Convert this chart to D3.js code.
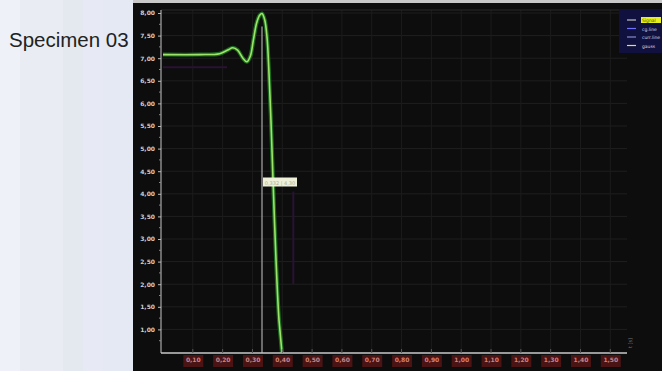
<!DOCTYPE html>
<html>
<head>
<meta charset="utf-8">
<script src="https://cdn.jsdelivr.net/npm/d3@7"></script>
<style>
  html, body { margin: 0; padding: 0; background: #e8edf5; }
  svg { display: block; }
</style>
</head>
<body>
<svg id="chart" width="662" height="371"></svg>
<script>
// Specimen trace: position (x) vs. measured value (y)
const traceX = [0, 0.123, 0.19, 0.217, 0.234, 0.25, 0.268, 0.281, 0.293, 0.303, 0.314, 0.324, 0.332, 0.341, 0.349, 0.355, 0.362, 0.369, 0.379, 0.389, 0.399];
const traceY = [7.08, 7.08, 7.10, 7.18, 7.23, 7.18, 7.00, 6.92, 7.05, 7.40, 7.78, 7.95, 7.99, 7.85, 7.45, 6.74, 5.63, 4.30, 2.54, 1.21, 0.48];

// Reference baseline segment
const refX = [0, 0.215];
const refY = [6.80, 6.80];

// Lower limit marker
const limitX = [0.437, 0.437];
const limitY = [4.05, 2.0];

// Cursor
const cursorX = 0.332;
const cursorY = 4.25;
const cursorText = "0,332 | 4,30";

const yTicks = [8.0, 7.5, 7.0, 6.5, 6.0, 5.5, 5.0, 4.5, 4.0, 3.5, 3.0, 2.5, 2.0, 1.5, 1.0];
const xTicks = [0.1, 0.2, 0.3, 0.4, 0.5, 0.6, 0.7, 0.8, 0.9, 1.0, 1.1, 1.2, 1.3, 1.4, 1.5];
const legendNames = ["Signal", "cg.line", "curr.line", "gauss"];

const fmt = d => d.toFixed(2).replace(".", ",");

const svg = d3.select("#chart");
const W = 662, H = 371;

// Left caption panel
const bands = [[0, 20, "#eef2f8"], [20, 43, "#e9edf3"], [63, 20, "#e4e8ef"], [83, 20, "#e7eaf4"], [103, 30, "#e5e9f4"]];
svg.selectAll("rect.band").data(bands).join("rect")
  .attr("class", "band")
  .attr("x", d => d[0]).attr("y", 0).attr("width", d => d[1]).attr("height", H)
  .attr("fill", d => d[2]);

svg.append("text")
  .attr("x", 9).attr("y", 47)
  .attr("font-family", "Liberation Sans, Arial, sans-serif")
  .attr("font-size", 20.5)
  .attr("fill", "#222")
  .text("Specimen 03");

// Dark graph panel
svg.append("rect").attr("x", 133).attr("y", 0).attr("width", W - 133).attr("height", H).attr("fill", "#0d0d0d");
svg.append("rect").attr("x", 133).attr("y", 0).attr("width", W - 133).attr("height", 3).attr("fill", "#c9c9c9");

const plotL = 161, plotR = 627, plotT = 6, plotB = 353;

const x = d3.scaleLinear().domain([0, 1.556]).range([163, 627]);
const y = d3.scaleLinear().domain([0.5, 8.0]).range([352, 13]);

// Grid
svg.append("g").selectAll("line").data(yTicks).join("line")
  .attr("x1", plotL).attr("x2", plotR)
  .attr("y1", d => y(d)).attr("y2", d => y(d))
  .attr("stroke", "#1f1f1f").attr("stroke-width", 1);
svg.append("g").selectAll("line").data(xTicks).join("line")
  .attr("y1", 10).attr("y2", plotB)
  .attr("x1", d => x(d)).attr("x2", d => x(d))
  .attr("stroke", "#1c1c1c").attr("stroke-width", 1);
svg.append("line").attr("x1", plotL).attr("x2", plotR).attr("y1", 10).attr("y2", 10)
  .attr("stroke", "#2a2a2a");

// Clip for plotted data
svg.append("clipPath").attr("id", "plotClip")
  .append("rect").attr("x", plotL).attr("y", plotT).attr("width", plotR - plotL).attr("height", plotB - plotT);

const plot = svg.append("g").attr("clip-path", "url(#plotClip)");

const lineStraight = d3.line().x(d => x(d[0])).y(d => y(d[1]));

plot.append("path")
  .attr("d", lineStraight(d3.zip(refX, refY)))
  .attr("fill", "none").attr("stroke", "#2a1234").attr("stroke-width", 2);

plot.append("path")
  .attr("d", lineStraight(d3.zip(limitX, limitY)))
  .attr("fill", "none").attr("stroke", "#2a1234").attr("stroke-width", 2);

// Cursor line
plot.append("line")
  .attr("x1", x(cursorX)).attr("x2", x(cursorX))
  .attr("y1", y(7.7)).attr("y2", plotB)
  .attr("stroke", "#a9a9a9").attr("stroke-width", 1.2);

const traceData = d3.zip(traceX, traceY);
const tracePath = d3.line().x(d => x(d[0])).y(d => y(d[1])).curve(d3.curveCatmullRom.alpha(0.5));
plot.append("path")
  .attr("d", tracePath(traceData))
  .attr("fill", "none").attr("stroke", "#1e7a22").attr("stroke-width", 4).attr("opacity", 0.85);
plot.append("path")
  .attr("d", tracePath(traceData))
  .attr("fill", "none").attr("stroke", "#9fe46a").attr("stroke-width", 1.6);

// Cursor readout
const cx = x(cursorX), cy = y(cursorY);
svg.append("rect").attr("x", cx + 1).attr("y", cy - 5).attr("width", 34).attr("height", 9)
  .attr("fill", "#eef0d8");
svg.append("text").attr("x", cx + 18).attr("y", cy + 2)
  .attr("text-anchor", "middle")
  .attr("font-family", "DejaVu Sans, sans-serif").attr("font-size", 5)
  .attr("fill", "#a8ae98").text(cursorText);

// Y axis
const yAxis = d3.axisLeft(y).tickValues(yTicks).tickFormat(fmt).tickSize(3);
const gy = svg.append("g").attr("transform", `translate(${plotL},0)`).call(yAxis);
gy.select(".domain").attr("stroke", "#c8c8c8").attr("d", `M0,10V${plotB}`);
gy.selectAll(".tick line").attr("stroke", "#bbb");
gy.selectAll(".tick text")
  .attr("x", -6)
  .attr("fill", "#d0d0d0")
  .attr("font-family", "DejaVu Sans, sans-serif")
  .attr("font-size", 6)
  .attr("font-weight", "bold");
const minorY = d3.range(0.75, 8.0, 0.5);
svg.append("g").selectAll("line").data(minorY).join("line")
  .attr("x1", plotL - 2).attr("x2", plotL)
  .attr("y1", d => y(d)).attr("y2", d => y(d))
  .attr("stroke", "#888");

// X axis
const xAxis = d3.axisBottom(x).tickValues(xTicks).tickFormat(fmt).tickSize(0);
const gx = svg.append("g").attr("transform", `translate(0,${plotB})`).call(xAxis);
gx.select(".domain").attr("stroke", "#c8c8c8").attr("stroke-width", 1.5).attr("d", `M${plotL},0H${plotR}`);
gx.selectAll(".tick").insert("rect", "text")
  .attr("x", -10).attr("y", 2).attr("width", 20).attr("height", 12)
  .attr("fill", "#4a1414");
gx.selectAll(".tick text")
  .attr("y", 5)
  .attr("fill", "#d08282")
  .attr("font-family", "DejaVu Sans, sans-serif")
  .attr("font-size", 6)
  .attr("font-weight", "bold");
svg.append("g").selectAll("line").data(xTicks).join("line")
  .attr("x1", d => x(d)).attr("x2", d => x(d))
  .attr("y1", plotB - 4).attr("y2", plotB)
  .attr("stroke", "#555");

svg.append("text")
  .attr("transform", `translate(632,348) rotate(-90)`)
  .attr("font-family", "DejaVu Sans, sans-serif").attr("font-size", 5)
  .attr("fill", "#777").text("t [s]");

// Legend
const lg = svg.append("g").attr("transform", "translate(619,9)");
lg.append("rect").attr("width", 43).attr("height", 44).attr("fill", "#11113f");
const legendColors = ["#c0c0c0", "#7070ff", "#8a8ad0", "#e8e060"];
legendNames.forEach((name, i) => {
  const yy = 11 + i * 8.5;
  lg.append("line").attr("x1", 8).attr("x2", 17).attr("y1", yy).attr("y2", yy)
    .attr("stroke", legendColors[i]).attr("stroke-width", 1.2);
  if (i === 0) {
    lg.append("rect").attr("x", 22).attr("y", yy - 3).attr("width", 20).attr("height", 6).attr("fill", "#e6f020");
  }
  lg.append("text").attr("x", 23).attr("y", yy + 2)
    .attr("font-family", "DejaVu Sans, sans-serif").attr("font-size", 4.5)
    .attr("fill", i === 0 ? "#555500" : "#d8d8e8").text(name);
});
</script>
</body>
</html>
